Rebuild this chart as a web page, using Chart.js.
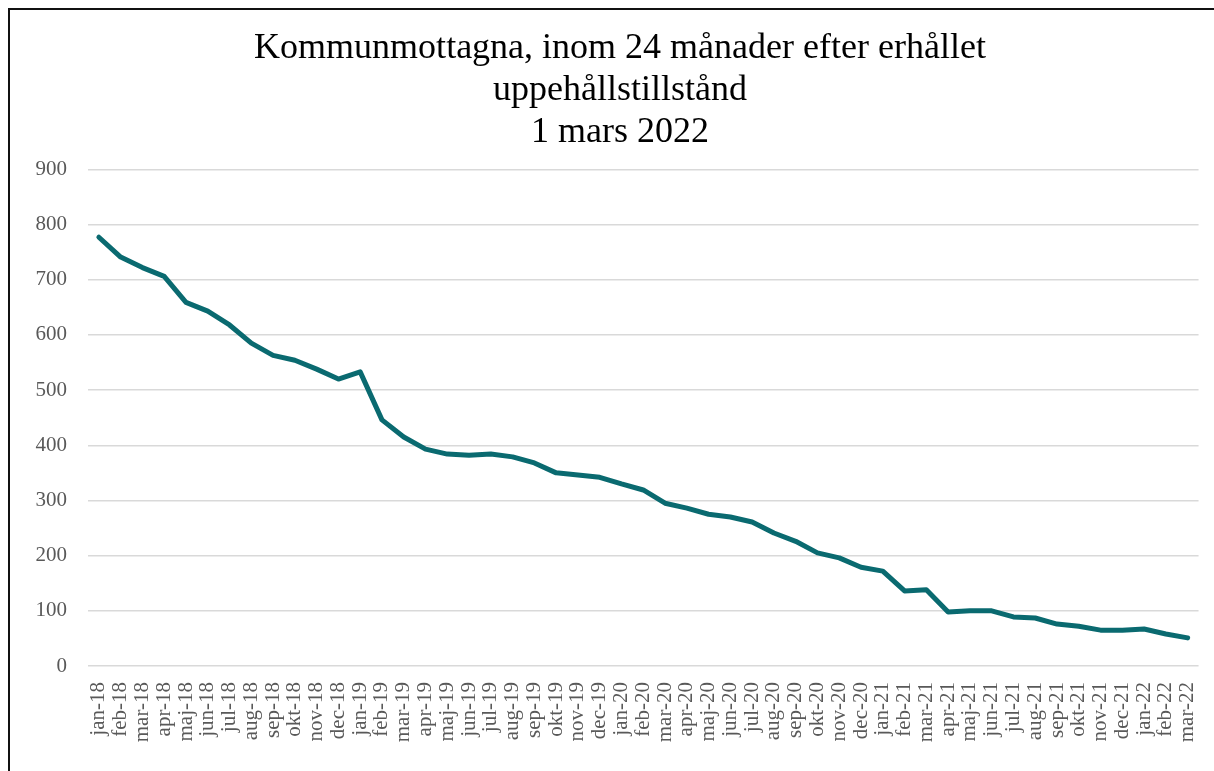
<!DOCTYPE html>
<html lang="sv">
<head>
    <meta charset="UTF-8">
    <title>Kommunmottagna</title>
    <script src="https://cdn.jsdelivr.net/npm/chart.js"></script>
    <style>
        body { margin: 0; background: #fff; overflow: hidden; }
        #ram { position: absolute; left: 8px; top: 8px; border-left: 2px solid #111; border-top: 2px solid #111; }
        canvas { display: block; }
    </style>
</head>
<body>
    <div id="ram"><canvas id="mottagnaChart" width="1211" height="763"></canvas></div>
    <script>
        const manader = ['jan-18', 'feb-18', 'mar-18', 'apr-18', 'maj-18', 'jun-18', 'jul-18', 'aug-18', 'sep-18', 'okt-18', 'nov-18', 'dec-18',
            'jan-19', 'feb-19', 'mar-19', 'apr-19', 'maj-19', 'jun-19', 'jul-19', 'aug-19', 'sep-19', 'okt-19', 'nov-19', 'dec-19',
            'jan-20', 'feb-20', 'mar-20', 'apr-20', 'maj-20', 'jun-20', 'jul-20', 'aug-20', 'sep-20', 'okt-20', 'nov-20', 'dec-20',
            'jan-21', 'feb-21', 'mar-21', 'apr-21', 'maj-21', 'jun-21', 'jul-21', 'aug-21', 'sep-21', 'okt-21', 'nov-21', 'dec-21',
            'jan-22', 'feb-22', 'mar-22'];
        const mottagna = [777, 741, 722, 706, 659, 643, 618, 585, 563, 554, 538, 520,
            533, 446, 415, 393, 384, 382, 384, 379, 368, 350, 346, 342,
            330, 319, 295, 286, 275, 270, 261, 241, 226, 205, 196, 179,
            172, 136, 138, 98, 100, 100, 89, 87, 76, 72, 65, 65,
            67, 58, 51];
        const rubrik = ['Kommunmottagna, inom 24 månader efter erhållet', 'uppehållstillstånd', '1 mars 2022'];

        const serif = "'Liberation Serif', 'DejaVu Serif', serif";

        new Chart(document.getElementById('mottagnaChart'), {
            type: 'line',
            data: {
                labels: manader,
                datasets: [{
                    data: mottagna,
                    borderColor: '#0a6a70',
                    borderWidth: 5,
                    pointRadius: 0,
                    tension: 0,
                    borderCapStyle: 'round',
                    borderJoinStyle: 'round',
                    fill: false
                }]
            },
            options: {
                responsive: false,
                animation: false,
                layout: { padding: { left: 24, right: 15, top: 0, bottom: 0 } },
                plugins: {
                    legend: { display: false },
                    tooltip: { enabled: false },
                    title: {
                        display: true,
                        text: rubrik,
                        color: '#000',
                        font: { family: serif, size: 36, weight: 'normal', lineHeight: 1.17 },
                        padding: { top: 17, bottom: 16 }
                    }
                },
                scales: {
                    x: {
                        offset: true,
                        grid: { display: false },
                        border: { display: false },
                        ticks: {
                            autoSkip: false,
                            minRotation: 90,
                            maxRotation: 90,
                            padding: 8,
                            color: '#595959',
                            font: { family: serif, size: 21 }
                        },
                        afterFit: (s) => { s.height = 107; }
                    },
                    y: {
                        min: 0,
                        max: 900,
                        grid: { color: '#d9d9d9', lineWidth: 1.5, drawTicks: false },
                        border: { display: false },
                        ticks: {
                            stepSize: 100,
                            padding: 21,
                            color: '#595959',
                            font: { family: serif, size: 21 }
                        },
                        afterFit: (s) => { s.width = 54; }
                    }
                }
            }
        });
    </script>
</body>
</html>
